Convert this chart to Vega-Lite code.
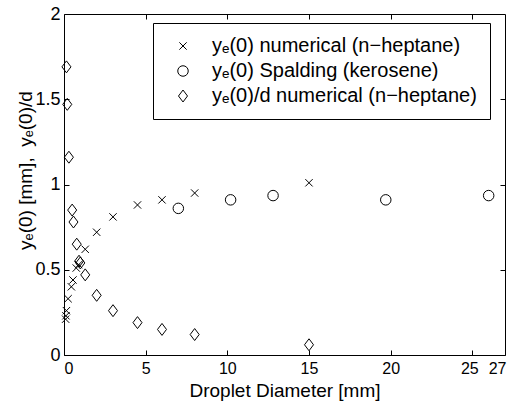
{
  "$schema": "https://vega.github.io/schema/vega-lite/v6.json",
  "autosize": {"type": "none"},
  "width": 441,
  "height": 341,
  "padding": {"left": 64, "top": 14, "right": 17, "bottom": 50},
  "background": "white",
  "config": {
    "view": {"stroke": "black", "strokeWidth": 1},
    "font": "Liberation Sans",
    "axis": {
      "domain": false,
      "grid": false,
      "tickColor": "black",
      "tickSize": -5,
      "labelColor": "black",
      "labelFont": "Liberation Sans",
      "labelFontSize": 17,
      "labelOverlap": false,
      "labelBound": false,
      "titleColor": "black",
      "titleFont": "Liberation Sans",
      "titleFontSize": 19,
      "titleFontWeight": "normal"
    }
  },
  "data": {
    "values": [
      {"d": 0.1, "y": 0.21, "series": "yₑ(0) numerical (n−heptane)"},
      {"d": 0.12, "y": 0.23, "series": "yₑ(0) numerical (n−heptane)"},
      {"d": 0.15, "y": 0.26, "series": "yₑ(0) numerical (n−heptane)"},
      {"d": 0.25, "y": 0.33, "series": "yₑ(0) numerical (n−heptane)"},
      {"d": 0.45, "y": 0.4, "series": "yₑ(0) numerical (n−heptane)"},
      {"d": 0.55, "y": 0.44, "series": "yₑ(0) numerical (n−heptane)"},
      {"d": 0.75, "y": 0.51, "series": "yₑ(0) numerical (n−heptane)"},
      {"d": 0.9, "y": 0.53, "series": "yₑ(0) numerical (n−heptane)"},
      {"d": 1.3, "y": 0.62, "series": "yₑ(0) numerical (n−heptane)"},
      {"d": 2, "y": 0.72, "series": "yₑ(0) numerical (n−heptane)"},
      {"d": 3, "y": 0.81, "series": "yₑ(0) numerical (n−heptane)"},
      {"d": 4.5, "y": 0.88, "series": "yₑ(0) numerical (n−heptane)"},
      {"d": 6, "y": 0.91, "series": "yₑ(0) numerical (n−heptane)"},
      {"d": 8, "y": 0.95, "series": "yₑ(0) numerical (n−heptane)"},
      {"d": 15, "y": 1.01, "series": "yₑ(0) numerical (n−heptane)"},
      {"d": 7, "y": 0.86, "series": "yₑ(0) Spalding (kerosene)"},
      {"d": 10.2, "y": 0.91, "series": "yₑ(0) Spalding (kerosene)"},
      {"d": 12.8, "y": 0.935, "series": "yₑ(0) Spalding (kerosene)"},
      {"d": 19.7, "y": 0.91, "series": "yₑ(0) Spalding (kerosene)"},
      {"d": 26, "y": 0.935, "series": "yₑ(0) Spalding (kerosene)"},
      {"d": 0.15, "y": 1.69, "series": "yₑ(0)/d numerical (n−heptane)"},
      {"d": 0.2, "y": 1.47, "series": "yₑ(0)/d numerical (n−heptane)"},
      {"d": 0.3, "y": 1.16, "series": "yₑ(0)/d numerical (n−heptane)"},
      {"d": 0.5, "y": 0.85, "series": "yₑ(0)/d numerical (n−heptane)"},
      {"d": 0.58, "y": 0.78, "series": "yₑ(0)/d numerical (n−heptane)"},
      {"d": 0.78, "y": 0.65, "series": "yₑ(0)/d numerical (n−heptane)"},
      {"d": 0.92, "y": 0.55, "series": "yₑ(0)/d numerical (n−heptane)"},
      {"d": 1.0, "y": 0.54, "series": "yₑ(0)/d numerical (n−heptane)"},
      {"d": 1.3, "y": 0.47, "series": "yₑ(0)/d numerical (n−heptane)"},
      {"d": 2, "y": 0.35, "series": "yₑ(0)/d numerical (n−heptane)"},
      {"d": 3, "y": 0.26, "series": "yₑ(0)/d numerical (n−heptane)"},
      {"d": 4.5, "y": 0.19, "series": "yₑ(0)/d numerical (n−heptane)"},
      {"d": 6, "y": 0.15, "series": "yₑ(0)/d numerical (n−heptane)"},
      {"d": 8, "y": 0.12, "series": "yₑ(0)/d numerical (n−heptane)"},
      {"d": 15, "y": 0.06, "series": "yₑ(0)/d numerical (n−heptane)"}
    ]
  },
  "layer": [
    {
      "mark": {"type": "point", "filled": false, "color": "black", "strokeWidth": 1, "opacity": 1, "size": 110},
      "encoding": {
        "x": {
          "field": "d", "type": "quantitative",
          "scale": {"domain": [0, 27], "nice": false, "zero": false},
          "axis": {
            "title": "Droplet Diameter [mm]",
            "values": [0, 5, 10, 15, 20, 25, 27],
            "labelFontSize": 16,
            "labelPadding": 10,
            "labelOffset": {
              "condition": [
                {"test": "datum.value == 27", "value": 1},
                {"test": "datum.value == 25", "value": -3}
              ],
              "value": 0
            },
            "titlePadding": 5
          }
        },
        "y": {
          "field": "y", "type": "quantitative",
          "scale": {"domain": [0, 2], "nice": false},
          "axis": {"title": "yₑ(0) [mm],\u00a0 yₑ(0)/d", "values": [0, 0.5, 1, 1.5, 2], "format": "~g", "labelFontSize": 18, "labelPadding": 9, "titleY": 156, "titleX": -29}
        },
        "shape": {
          "field": "series", "type": "nominal",
          "scale": {
            "domain": ["yₑ(0) numerical (n−heptane)", "yₑ(0) Spalding (kerosene)", "yₑ(0)/d numerical (n−heptane)"],
            "range": ["M-0.7,-0.7L0.7,0.7M-0.7,0.7L0.7,-0.7", "circle", "M0,-1.14L0.86,0L0,1.14L-0.86,0Z"]
          },
          "legend": {
            "title": null,
            "orient": "none",
            "legendX": 89,
            "legendY": 9,
            "padding": 13,
            "strokeColor": "black",
            "fillColor": "white",
            "symbolSize": 110,
            "symbolStrokeColor": "black",
            "symbolStrokeWidth": 1,
            "symbolFillColor": "transparent",
            "symbolOffset": 7,
            "labelOffset": 19,
            "labelFont": "Liberation Sans",
            "labelFontSize": 20,
            "labelColor": "black",
            "labelLimit": 400,
            "rowPadding": 5
          }
        }
      }
    },
    {
      "mark": {"type": "point", "opacity": 0},
      "encoding": {
        "x": {
          "field": "d", "type": "quantitative",
          "axis": {"orient": "top", "title": null, "labels": false, "values": [5, 10, 15, 20, 25]}
        },
        "y": {
          "field": "y", "type": "quantitative",
          "axis": {"orient": "right", "title": null, "labels": false, "values": [0.5, 1, 1.5]}
        }
      }
    }
  ],
  "resolve": {"axis": {"x": "independent", "y": "independent"}}
}
